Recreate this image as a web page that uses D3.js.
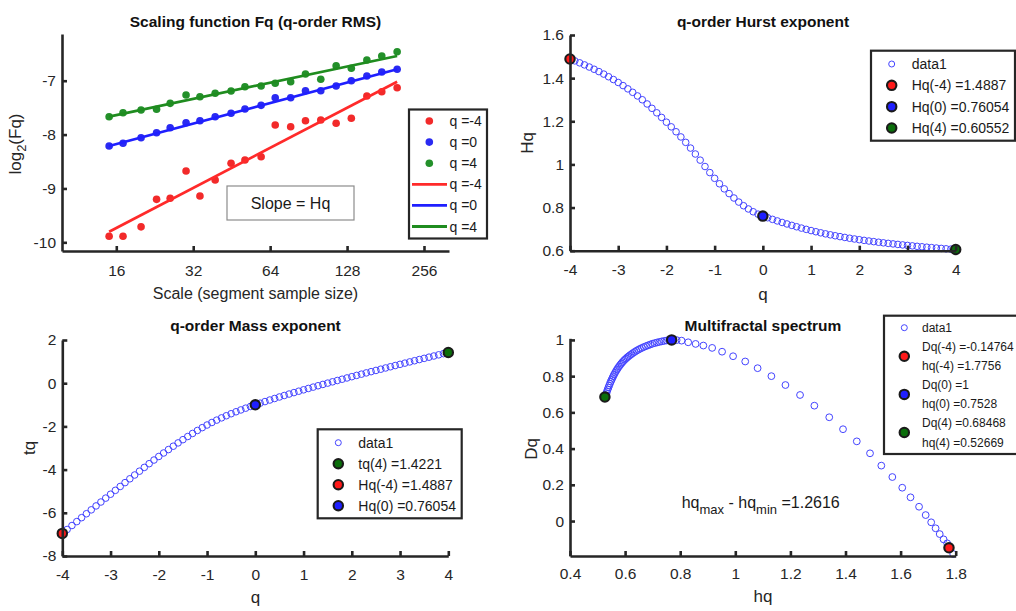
<!DOCTYPE html>
<meta charset="utf-8">
<title>MFDFA panels</title>
<style>
    body { margin: 0; background: #fff; }
    svg { display: block; font-family: "Liberation Sans", Arial, sans-serif; }
    .title { font-size: 15.5px; font-weight: bold; text-anchor: middle; fill: #111; }
    .label { font-size: 17px; text-anchor: middle; fill: #262626; }
    .legend text { font-size: 14px; fill: #1a1a1a; }
</style>

<body>
<script src="https://d3js.org/d3.v7.min.js" charset="utf-8"></script>
<script>
// ---------- data ----------

// panel 1: scaling function
var scales = [15, 17, 20, 23, 26, 30, 34, 39, 45, 51, 59, 67, 77, 88, 101, 116, 133, 153, 175, 201];
var fqNeg4 = [-9.886, -9.886, -9.713, -9.202, -9.183, -8.676, -9.140, -8.843, -8.533, -8.472,
              -8.411, -7.822, -7.854, -7.743, -7.730, -7.791, -7.698, -7.284, -7.204, -7.130];
var fqZero = [-8.212, -8.162, -8.058, -7.965, -7.872, -7.780, -7.743, -7.668, -7.605, -7.525,
              -7.457, -7.316, -7.316, -7.186, -7.186, -7.098, -7.000, -6.913, -6.839, -6.788];
var fqPos4 = [-7.668, -7.594, -7.544, -7.531, -7.420, -7.265, -7.297, -7.234, -7.191, -7.111,
              -7.098, -7.048, -7.019, -6.876, -6.974, -6.722, -6.770, -6.616, -6.541, -6.462];
var fitScales = [15, 201];
var fitNeg4 = [-9.803, -7.019];
var fitZero = [-8.212, -6.788];
var fitPos4 = [-7.668, -6.541];
var p1Ticks = [16, 32, 64, 128, 256];
var p1YTicks = [-10, -9, -8, -7];

// panels 2 and 3: q, Hq, tq
var qValues = [-4.0, -3.9, -3.8, -3.7, -3.6, -3.5, -3.4, -3.3, -3.2, -3.1,
               -3.0, -2.9, -2.8, -2.7, -2.6, -2.5, -2.4, -2.3, -2.2, -2.1,
               -2.0, -1.9, -1.8, -1.7, -1.6, -1.5, -1.4, -1.3, -1.2, -1.1,
               -1.0, -0.9, -0.8, -0.7, -0.6, -0.5, -0.4, -0.3, -0.2, -0.1,
               0.0,
               0.1, 0.2, 0.3, 0.4, 0.5, 0.6, 0.7, 0.8, 0.9, 1.0,
               1.1, 1.2, 1.3, 1.4, 1.5, 1.6, 1.7, 1.8, 1.9, 2.0,
               2.1, 2.2, 2.3, 2.4, 2.5, 2.6, 2.7, 2.8, 2.9, 3.0,
               3.1, 3.2, 3.3, 3.4, 3.5, 3.6, 3.7, 3.8, 3.9, 4.0];
var hurst = [1.4887, 1.4800, 1.4709, 1.4614, 1.4515, 1.4412, 1.4303, 1.4188, 1.4065, 1.3936,
             1.3799, 1.3655, 1.3503, 1.3343, 1.3175, 1.2999, 1.2803, 1.2601, 1.2392, 1.2178,
             1.1958, 1.1742, 1.1514, 1.1274, 1.1022, 1.0758, 1.0483, 1.0198, 0.9903, 0.9622,
             0.9355, 0.9103, 0.8867, 0.8647, 0.8443, 0.8255, 0.8085, 0.7935, 0.7805, 0.7695,
             0.7605,
             0.7528, 0.7453, 0.7380, 0.7309, 0.7240, 0.7174, 0.7110, 0.7048, 0.6989, 0.6933,
             0.6879, 0.6829, 0.6781, 0.6735, 0.6693, 0.6653, 0.6615, 0.6578, 0.6543, 0.6510,
             0.6479, 0.6449, 0.6420, 0.6392, 0.6365, 0.6340, 0.6315, 0.6291, 0.6268, 0.6245,
             0.6224, 0.6203, 0.6182, 0.6162, 0.6143, 0.6124, 0.6106, 0.6088, 0.6071, 0.6055];
var massExp = [-6.955, -6.772, -6.589, -6.407, -6.225, -6.044, -5.863, -5.682, -5.501, -5.320,
               -5.140, -4.960, -4.781, -4.603, -4.426, -4.250, -4.073, -3.898, -3.726, -3.557,
               -3.392, -3.231, -3.073, -2.917, -2.764, -2.614, -2.468, -2.326, -2.188, -2.058,
               -1.936, -1.819, -1.709, -1.605, -1.507, -1.413, -1.323, -1.238, -1.156, -1.077,
               -1.000,
               -0.925, -0.851, -0.779, -0.708, -0.638, -0.570, -0.502, -0.436, -0.371, -0.307,
               -0.243, -0.181, -0.118, -0.057, 0.004, 0.064, 0.125, 0.184, 0.243, 0.302,
               0.361, 0.419, 0.477, 0.534, 0.591, 0.648, 0.705, 0.761, 0.818, 0.874,
               0.929, 0.985, 1.040, 1.095, 1.150, 1.205, 1.259, 1.313, 1.368, 1.422];
var qTicks = [-4, -3, -2, -1, 0, 1, 2, 3, 4];
var hurstTicks = [0.6, 0.8, 1, 1.2, 1.4, 1.6];
var massTicks = [-8, -6, -4, -2, 0, 2];

// panel 4: multifractal spectrum (hq, Dq)
var specH = [0.527, 0.5295, 0.532, 0.5345, 0.537, 0.5395, 0.542, 0.545, 0.548, 0.551,
             0.554, 0.557, 0.560, 0.5635, 0.567, 0.5705, 0.574, 0.578, 0.582, 0.586,
             0.590, 0.5945, 0.599, 0.6035, 0.608, 0.613, 0.618, 0.6235, 0.629, 0.635,
             0.641, 0.6475, 0.654, 0.661, 0.668, 0.6755, 0.683, 0.691, 0.699, 0.7075,
             0.716, 0.7245, 0.733, 0.742, 0.751, 0.760, 0.769,
             0.787, 0.805, 0.829, 0.856, 0.884, 0.916, 0.952, 0.992, 1.036, 1.081,
             1.131, 1.182, 1.235, 1.287, 1.341, 1.391, 1.441, 1.489, 1.530, 1.570,
             1.606, 1.636, 1.667, 1.691, 1.711, 1.727, 1.742, 1.756, 1.769, 1.777, 1.791];
var specD = [0.685, 0.6955, 0.706, 0.7165, 0.727, 0.7375, 0.748, 0.759, 0.770, 0.780,
             0.790, 0.7995, 0.809, 0.8185, 0.828, 0.8365, 0.845, 0.8535, 0.862, 0.8695,
             0.877, 0.884, 0.891, 0.8975, 0.904, 0.910, 0.916, 0.922, 0.928, 0.934,
             0.940, 0.9455, 0.951, 0.956, 0.961, 0.9655, 0.970, 0.9745, 0.979, 0.9825,
             0.986, 0.989, 0.992, 0.9945, 0.997, 0.999, 1.000,
             0.999, 0.996, 0.987, 0.978, 0.969, 0.956, 0.935, 0.910, 0.881, 0.844,
             0.800, 0.751, 0.696, 0.637, 0.573, 0.507, 0.440, 0.374, 0.306, 0.243,
             0.184, 0.131, 0.079, 0.033, -0.007, -0.040, -0.072, -0.101, -0.123, -0.145, -0.182];
var specXTicks = [0.4, 0.6, 0.8, 1, 1.2, 1.4, 1.6, 1.8];
var specYTicks = [0, 0.2, 0.4, 0.6, 0.8, 1];

// highlighted points [x, y]
var hurstMarks = [[-4, 1.4887], [0, 0.76054], [4, 0.60552]];
var massMarks = [[-4, -6.9548], [0, -1], [4, 1.4221]];
var specMarks = [[1.7756, -0.14764], [0.769, 1], [0.52669, 0.68468]];

// ---------- drawing ----------

var width = 1016,
    height = 611;

var RED = "#ff1a1a", BLUE = "#1f1fff", GREEN = "#0b6e0b";
var ink = "#262626";

var svg = d3.select("body").append("svg")
    .attr("width", width)
    .attr("height", height);

function axes(xs, ys, xTicks, yTicks, textY) {
    var fmt = function (d) { return String(d); };
    var gx = svg.append("g")
        .attr("transform", "translate(0," + ys.range()[0] + ")")
        .call(d3.axisBottom(xs).tickValues(xTicks).tickFormat(fmt).tickSize(-5).tickSizeOuter(0));
    gx.selectAll(".tick text").attr("y", textY).attr("dy", 0);
    var gy = svg.append("g")
        .attr("transform", "translate(" + xs.range()[0] + ",0)")
        .call(d3.axisLeft(ys).tickValues(yTicks).tickFormat(fmt).tickSize(-5).tickPadding(6).tickSizeOuter(0));
    [gx, gy].forEach(function (g) {
        g.select(".domain").attr("stroke", ink).attr("stroke-width", 2.6);
        g.selectAll(".tick line").attr("stroke", ink).attr("stroke-width", 2.6);
        g.selectAll(".tick text").attr("fill", ink)
            .style("font-size", "15.5px")
            .style("font-family", "'Liberation Sans', Arial, sans-serif");
    });
}

function title(x, y, s) {
    svg.append("text").attr("class", "title").attr("x", x).attr("y", y).text(s);
}

function label(x, y, s, rotate) {
    var t = svg.append("text").attr("class", "label");
    if (rotate) t.attr("transform", "translate(" + x + "," + y + ") rotate(-90)");
    else t.attr("x", x).attr("y", y);
    t.text(s);
    return t;
}

function hollow(g, cx, cy, r) {
    g.append("circle").attr("cx", cx).attr("cy", cy).attr("r", r || 3.3)
        .attr("fill", "none").attr("stroke", "#4444ff").attr("stroke-width", 1);
}

function mark(g, cx, cy, color) {
    g.append("circle").attr("cx", cx).attr("cy", cy).attr("r", 4.7)
        .attr("fill", color).attr("stroke", "#1a1a1a").attr("stroke-width", 2.1);
}

function legendBox(x, y, w, h) {
    var g = svg.append("g").attr("class", "legend");
    g.append("rect").attr("x", x).attr("y", y).attr("width", w).attr("height", h)
        .attr("fill", "#fff").attr("stroke", ink).attr("stroke-width", 2.2);
    return g;
}

// ----- panel 1: scaling function -----
var x1 = d3.scaleLog().base(2).domain([9.81, 320.7]).range([62, 449]);
var y1 = d3.scaleLinear().domain([-10.161, -6.133]).range([251, 34]);

var series1 = [
    { pts: fqNeg4, fit: fitNeg4, color: "#f22a2a", line: "#ff2a2a", name: "q =-4" },
    { pts: fqZero, fit: fitZero, color: "#2a2af2", line: "#1f1fff", name: "q =0" },
    { pts: fqPos4, fit: fitPos4, color: "#23902a", line: "#1f8c1f", name: "q =4" }
];

var p1 = svg.append("g");
series1.forEach(function (s) {
    p1.selectAll(null).data(s.pts).enter().append("circle")
        .attr("cx", function (d, i) { return x1(scales[i]); })
        .attr("cy", function (d) { return y1(d); })
        .attr("r", 3.8)
        .attr("fill", s.color);
});
series1.forEach(function (s) {
    p1.append("line")
        .attr("x1", x1(fitScales[0])).attr("y1", y1(s.fit[0]))
        .attr("x2", x1(fitScales[1])).attr("y2", y1(s.fit[1]))
        .attr("stroke", s.line).attr("stroke-width", 2.7);
});
axes(x1, y1, p1Ticks, p1YTicks, 25);
title(255.5, 27, "Scaling function Fq (q-order RMS)");
svg.append("text").attr("class", "label").style("font-size", "16px")
    .attr("x", 255.5).attr("y", 299).text("Scale (segment sample size)");
var ylab = svg.append("text").attr("class", "label")
    .attr("transform", "translate(21,144) rotate(-90)");
ylab.append("tspan").text("log");
ylab.append("tspan").attr("dy", 5).style("font-size", "13px").text("2");
ylab.append("tspan").attr("dy", -5).text("(Fq)");

// slope box
svg.append("rect").attr("x", 227).attr("y", 186).attr("width", 127).attr("height", 34)
    .attr("fill", "#fff").attr("stroke", "#8c8c8c").attr("stroke-width", 1.2);
svg.append("text").attr("x", 290.5).attr("y", 209).attr("text-anchor", "middle")
    .style("font-size", "16px").attr("fill", "#1a1a1a").text("Slope = Hq");

// legend 1
var lg1 = legendBox(409, 109.5, 78, 129);
series1.forEach(function (s, i) {
    var yy = 121 + i * 21.1;
    lg1.append("circle").attr("cx", 429.3).attr("cy", yy).attr("r", 3.8).attr("fill", s.color);
    lg1.append("text").attr("x", 449.5).attr("y", yy + 5).text(s.name);
});
series1.forEach(function (s, i) {
    var yy = 121 + (i + 3) * 21.1;
    lg1.append("line").attr("x1", 412).attr("x2", 447).attr("y1", yy).attr("y2", yy)
        .attr("stroke", s.line).attr("stroke-width", 2.8);
    lg1.append("text").attr("x", 449.5).attr("y", yy + 5).text(s.name);
});

// ----- panel 2: q-order Hurst exponent -----
var x2 = d3.scaleLinear().domain([-4, 4]).range([570, 955.7]);
var y2 = d3.scaleLinear().domain([0.6, 1.6]).range([250.7, 35]);
var p2 = svg.append("g");
axes(x2, y2, qTicks, hurstTicks, 24.5);
hurst.forEach(function (h, i) { hollow(p2, x2(qValues[i]), y2(h)); });
var markColors = [RED, BLUE, GREEN];
hurstMarks.forEach(function (m, i) { mark(p2, x2(m[0]), y2(m[1]), markColors[i]); });
title(763, 27, "q-order Hurst exponent");
label(763, 300, "q");
label(533, 143, "Hq", true);

var lg2 = legendBox(871, 50.7, 144, 90);
var lg2Text = ["data1", "Hq(-4) =1.4887", "Hq(0) =0.76054", "Hq(4) =0.60552"];
lg2Text.forEach(function (t, i) {
    var yy = 64 + i * 21.33;
    if (i === 0) hollow(lg2, 891.7, yy, 3);
    else mark(lg2, 891.7, yy, markColors[i - 1]);
    lg2.append("text").attr("x", 911.7).attr("y", yy + 5).text(t);
});

// ----- panel 3: q-order Mass exponent -----
var x3 = d3.scaleLinear().domain([-4, 4]).range([62.3, 448.3]);
var y3 = d3.scaleLinear().domain([-8, 2]).range([556, 340]);
var p3 = svg.append("g");
axes(x3, y3, qTicks, massTicks, 24);
massExp.forEach(function (t, i) { hollow(p3, x3(qValues[i]), y3(t)); });
massMarks.forEach(function (m, i) { mark(p3, x3(m[0]), y3(m[1]), markColors[i]); });
title(255.5, 330.5, "q-order Mass exponent");
label(255.5, 603, "q");
label(35, 448, "tq", true);

var lg3 = legendBox(317.7, 429.3, 144, 89);
var lg3Rows = [["data1", null], ["tq(4) =1.4221", GREEN], ["Hq(-4) =1.4887", RED], ["Hq(0) =0.76054", BLUE]];
lg3Rows.forEach(function (r, i) {
    var yy = 442.7 + i * 21;
    if (!r[1]) hollow(lg3, 338.3, yy, 3);
    else mark(lg3, 338.3, yy, r[1]);
    lg3.append("text").attr("x", 358.3).attr("y", yy + 5).text(r[0]);
});

// ----- panel 4: multifractal spectrum -----
var x4 = d3.scaleLinear().domain([0.4, 1.8]).range([570, 955.7]);
var y4 = d3.scaleLinear().domain([-0.193, 1.009]).range([556, 338.3]);
var p4 = svg.append("g");
axes(x4, y4, specXTicks, specYTicks, 23);
specH.forEach(function (h, i) { hollow(p4, x4(h), y4(specD[i]), 3.4); });
specMarks.forEach(function (m, i) { mark(p4, x4(m[0]), y4(m[1]), markColors[i]); });
title(763, 330.5, "Multifractal spectrum");
label(763, 602, "hq");
label(537, 449, "Dq", true);

var ann = svg.append("text").attr("x", 681.7).attr("y", 508.3)
    .style("font-size", "16px").attr("fill", "#1a1a1a");
ann.append("tspan").text("hq");
ann.append("tspan").attr("dy", 6).style("font-size", "13px").text("max");
ann.append("tspan").attr("dy", -6).text(" - hq");
ann.append("tspan").attr("dy", 6).style("font-size", "13px").text("min");
ann.append("tspan").attr("dy", -6).text(" =1.2616");

var lg4 = legendBox(884, 315.7, 150, 138.3);
var lg4Text = ["data1", "Dq(-4) =-0.14764", "hq(-4) =1.7756", "Dq(0) =1",
               "hq(0) =0.7528", "Dq(4) =0.68468", "hq(4) =0.52669"];
lg4Text.forEach(function (t, i) {
    lg4.append("text").attr("x", 922).attr("y", 327.7 + i * 19.05 + 4.5)
        .style("font-size", "12px").text(t);
});
hollow(lg4, 904.3, 327.7, 3);
[356.3, 394.4, 432.5].forEach(function (yy, i) { mark(lg4, 904.3, yy, markColors[i]); });
</script>
</body>
